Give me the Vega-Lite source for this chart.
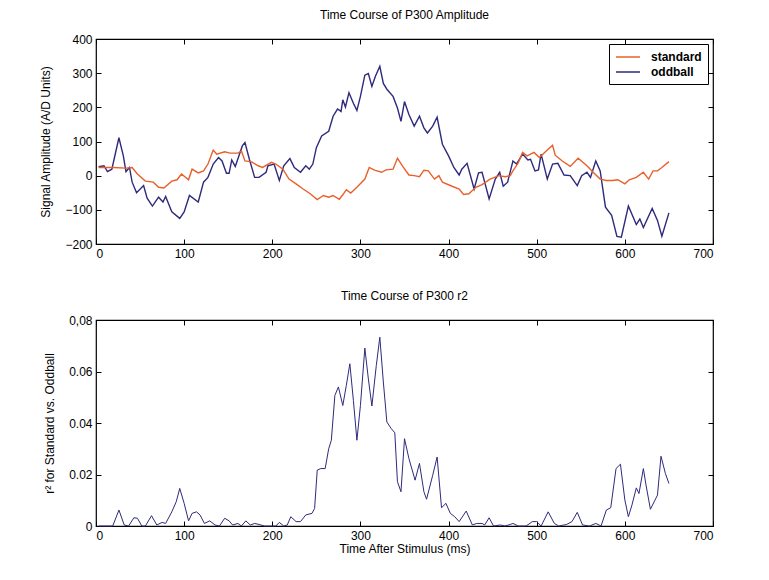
{
  "$schema": "https://vega.github.io/schema/vega-lite/v6.json",
  "padding": {"left": 39, "top": 8, "right": 5, "bottom": 5},
  "background": "white",
  "spacing": 29,
  "config": {
    "font": "Liberation Sans",
    "view": {"stroke": "black", "strokeWidth": 1.2},
    "title": {"fontSize": 12, "fontWeight": "normal", "color": "black", "offset": 11, "anchor": "middle"},
    "axis": {
      "grid": false, "domain": false, "tickColor": "black", "tickSize": -5,
      "labelPadding": 9, "labelFontSize": 12, "labelColor": "black",
      "titleFontSize": 12, "titleFontWeight": "normal", "titleColor": "black"
    }
  },
  "datasets": {
    "amp": [
      {"t":3,"v":26,"cond":"oddball"},{"t":9,"v":29,"cond":"oddball"},{"t":13,"v":12,"cond":"oddball"},{"t":18,"v":19,"cond":"oddball"},{"t":26,"v":111,"cond":"oddball"},{"t":31,"v":58,"cond":"oddball"},{"t":34,"v":12,"cond":"oddball"},{"t":38,"v":24,"cond":"oddball"},{"t":41,"v":-19,"cond":"oddball"},{"t":46,"v":-50,"cond":"oddball"},{"t":54,"v":-29,"cond":"oddball"},{"t":58,"v":-66,"cond":"oddball"},{"t":64,"v":-89,"cond":"oddball"},{"t":71,"v":-63,"cond":"oddball"},{"t":76,"v":-77,"cond":"oddball"},{"t":79,"v":-61,"cond":"oddball"},{"t":86,"v":-106,"cond":"oddball"},{"t":95,"v":-125,"cond":"oddball"},{"t":100,"v":-106,"cond":"oddball"},{"t":106,"v":-58,"cond":"oddball"},{"t":116,"v":-77,"cond":"oddball"},{"t":122,"v":-19,"cond":"oddball"},{"t":127,"v":-5,"cond":"oddball"},{"t":133,"v":34,"cond":"oddball"},{"t":139,"v":53,"cond":"oddball"},{"t":143,"v":43,"cond":"oddball"},{"t":148,"v":7,"cond":"oddball"},{"t":151,"v":7,"cond":"oddball"},{"t":154,"v":46,"cond":"oddball"},{"t":158,"v":27,"cond":"oddball"},{"t":166,"v":87,"cond":"oddball"},{"t":169,"v":97,"cond":"oddball"},{"t":174,"v":48,"cond":"oddball"},{"t":180,"v":-5,"cond":"oddball"},{"t":185,"v":-5,"cond":"oddball"},{"t":193,"v":10,"cond":"oddball"},{"t":195,"v":29,"cond":"oddball"},{"t":202,"v":34,"cond":"oddball"},{"t":208,"v":-14,"cond":"oddball"},{"t":213,"v":29,"cond":"oddball"},{"t":220,"v":50,"cond":"oddball"},{"t":225,"v":24,"cond":"oddball"},{"t":232,"v":10,"cond":"oddball"},{"t":238,"v":29,"cond":"oddball"},{"t":242,"v":19,"cond":"oddball"},{"t":246,"v":34,"cond":"oddball"},{"t":250,"v":82,"cond":"oddball"},{"t":256,"v":116,"cond":"oddball"},{"t":264,"v":130,"cond":"oddball"},{"t":269,"v":174,"cond":"oddball"},{"t":274,"v":195,"cond":"oddball"},{"t":278,"v":188,"cond":"oddball"},{"t":280,"v":222,"cond":"oddball"},{"t":283,"v":201,"cond":"oddball"},{"t":287,"v":243,"cond":"oddball"},{"t":292,"v":212,"cond":"oddball"},{"t":296,"v":191,"cond":"oddball"},{"t":300,"v":232,"cond":"oddball"},{"t":305,"v":294,"cond":"oddball"},{"t":309,"v":299,"cond":"oddball"},{"t":313,"v":261,"cond":"oddball"},{"t":317,"v":291,"cond":"oddball"},{"t":322,"v":320,"cond":"oddball"},{"t":326,"v":270,"cond":"oddball"},{"t":330,"v":253,"cond":"oddball"},{"t":337,"v":232,"cond":"oddball"},{"t":342,"v":198,"cond":"oddball"},{"t":346,"v":159,"cond":"oddball"},{"t":350,"v":217,"cond":"oddball"},{"t":355,"v":179,"cond":"oddball"},{"t":361,"v":145,"cond":"oddball"},{"t":367,"v":174,"cond":"oddball"},{"t":372,"v":140,"cond":"oddball"},{"t":376,"v":125,"cond":"oddball"},{"t":382,"v":145,"cond":"oddball"},{"t":387,"v":171,"cond":"oddball"},{"t":393,"v":92,"cond":"oddball"},{"t":400,"v":58,"cond":"oddball"},{"t":406,"v":24,"cond":"oddball"},{"t":412,"v":2,"cond":"oddball"},{"t":415,"v":19,"cond":"oddball"},{"t":421,"v":36,"cond":"oddball"},{"t":429,"v":-39,"cond":"oddball"},{"t":434,"v":8,"cond":"oddball"},{"t":438,"v":10,"cond":"oddball"},{"t":446,"v":-68,"cond":"oddball"},{"t":453,"v":-10,"cond":"oddball"},{"t":458,"v":10,"cond":"oddball"},{"t":462,"v":-31,"cond":"oddball"},{"t":467,"v":-19,"cond":"oddball"},{"t":473,"v":43,"cond":"oddball"},{"t":477,"v":34,"cond":"oddball"},{"t":484,"v":63,"cond":"oddball"},{"t":490,"v":46,"cond":"oddball"},{"t":493,"v":48,"cond":"oddball"},{"t":498,"v":14,"cond":"oddball"},{"t":502,"v":17,"cond":"oddball"},{"t":505,"v":63,"cond":"oddball"},{"t":512,"v":-10,"cond":"oddball"},{"t":518,"v":34,"cond":"oddball"},{"t":524,"v":36,"cond":"oddball"},{"t":531,"v":2,"cond":"oddball"},{"t":538,"v":0,"cond":"oddball"},{"t":546,"v":-29,"cond":"oddball"},{"t":551,"v":0,"cond":"oddball"},{"t":557,"v":10,"cond":"oddball"},{"t":561,"v":-5,"cond":"oddball"},{"t":567,"v":43,"cond":"oddball"},{"t":572,"v":14,"cond":"oddball"},{"t":578,"v":-92,"cond":"oddball"},{"t":585,"v":-116,"cond":"oddball"},{"t":591,"v":-178,"cond":"oddball"},{"t":596,"v":-180,"cond":"oddball"},{"t":604,"v":-89,"cond":"oddball"},{"t":613,"v":-143,"cond":"oddball"},{"t":617,"v":-127,"cond":"oddball"},{"t":621,"v":-152,"cond":"oddball"},{"t":631,"v":-96,"cond":"oddball"},{"t":637,"v":-131,"cond":"oddball"},{"t":642,"v":-177,"cond":"oddball"},{"t":650,"v":-109,"cond":"oddball"},
      {"t":3,"v":24,"cond":"standard"},{"t":19,"v":24,"cond":"standard"},{"t":34,"v":22,"cond":"standard"},{"t":41,"v":24,"cond":"standard"},{"t":47,"v":5,"cond":"standard"},{"t":56,"v":-16,"cond":"standard"},{"t":65,"v":-19,"cond":"standard"},{"t":71,"v":-34,"cond":"standard"},{"t":77,"v":-36,"cond":"standard"},{"t":86,"v":-16,"cond":"standard"},{"t":92,"v":-12,"cond":"standard"},{"t":97,"v":5,"cond":"standard"},{"t":105,"v":-12,"cond":"standard"},{"t":109,"v":19,"cond":"standard"},{"t":116,"v":8,"cond":"standard"},{"t":122,"v":14,"cond":"standard"},{"t":127,"v":34,"cond":"standard"},{"t":133,"v":75,"cond":"standard"},{"t":137,"v":63,"cond":"standard"},{"t":146,"v":70,"cond":"standard"},{"t":152,"v":66,"cond":"standard"},{"t":161,"v":66,"cond":"standard"},{"t":165,"v":72,"cond":"standard"},{"t":169,"v":43,"cond":"standard"},{"t":176,"v":41,"cond":"standard"},{"t":184,"v":29,"cond":"standard"},{"t":189,"v":24,"cond":"standard"},{"t":199,"v":39,"cond":"standard"},{"t":204,"v":34,"cond":"standard"},{"t":212,"v":19,"cond":"standard"},{"t":219,"v":-10,"cond":"standard"},{"t":227,"v":-24,"cond":"standard"},{"t":235,"v":-39,"cond":"standard"},{"t":243,"v":-53,"cond":"standard"},{"t":251,"v":-70,"cond":"standard"},{"t":258,"v":-58,"cond":"standard"},{"t":264,"v":-63,"cond":"standard"},{"t":269,"v":-58,"cond":"standard"},{"t":276,"v":-69,"cond":"standard"},{"t":280,"v":-56,"cond":"standard"},{"t":284,"v":-41,"cond":"standard"},{"t":289,"v":-51,"cond":"standard"},{"t":296,"v":-34,"cond":"standard"},{"t":305,"v":-10,"cond":"standard"},{"t":310,"v":24,"cond":"standard"},{"t":316,"v":16,"cond":"standard"},{"t":324,"v":10,"cond":"standard"},{"t":329,"v":17,"cond":"standard"},{"t":337,"v":19,"cond":"standard"},{"t":342,"v":51,"cond":"standard"},{"t":348,"v":27,"cond":"standard"},{"t":355,"v":2,"cond":"standard"},{"t":361,"v":0,"cond":"standard"},{"t":367,"v":-3,"cond":"standard"},{"t":372,"v":16,"cond":"standard"},{"t":377,"v":14,"cond":"standard"},{"t":384,"v":-10,"cond":"standard"},{"t":389,"v":0,"cond":"standard"},{"t":393,"v":-19,"cond":"standard"},{"t":404,"v":-31,"cond":"standard"},{"t":412,"v":-39,"cond":"standard"},{"t":417,"v":-55,"cond":"standard"},{"t":423,"v":-53,"cond":"standard"},{"t":431,"v":-34,"cond":"standard"},{"t":438,"v":-26,"cond":"standard"},{"t":447,"v":-10,"cond":"standard"},{"t":457,"v":0,"cond":"standard"},{"t":464,"v":-3,"cond":"standard"},{"t":470,"v":0,"cond":"standard"},{"t":473,"v":14,"cond":"standard"},{"t":479,"v":37,"cond":"standard"},{"t":484,"v":68,"cond":"standard"},{"t":489,"v":58,"cond":"standard"},{"t":497,"v":68,"cond":"standard"},{"t":503,"v":53,"cond":"standard"},{"t":512,"v":75,"cond":"standard"},{"t":518,"v":89,"cond":"standard"},{"t":521,"v":60,"cond":"standard"},{"t":529,"v":43,"cond":"standard"},{"t":538,"v":27,"cond":"standard"},{"t":547,"v":51,"cond":"standard"},{"t":557,"v":29,"cond":"standard"},{"t":564,"v":10,"cond":"standard"},{"t":572,"v":-10,"cond":"standard"},{"t":579,"v":-14,"cond":"standard"},{"t":586,"v":-14,"cond":"standard"},{"t":592,"v":-12,"cond":"standard"},{"t":600,"v":-24,"cond":"standard"},{"t":605,"v":-12,"cond":"standard"},{"t":613,"v":-5,"cond":"standard"},{"t":621,"v":10,"cond":"standard"},{"t":627,"v":-10,"cond":"standard"},{"t":632,"v":14,"cond":"standard"},{"t":637,"v":14,"cond":"standard"},{"t":642,"v":24,"cond":"standard"},{"t":650,"v":41,"cond":"standard"}
    ],
    "r2": [
      {"t":3,"r":0},{"t":19,"r":0},{"t":26,"r":0.0062},{"t":32,"r":0.0004},{"t":37,"r":0},{"t":43,"r":0.0032},{"t":47,"r":0.003},{"t":52,"r":0},{"t":56,"r":0},{"t":63,"r":0.004},{"t":69,"r":0.0004},{"t":75,"r":0.0014},{"t":79,"r":0.001},{"t":86,"r":0.0055},{"t":91,"r":0.0094},{"t":95,"r":0.0146},{"t":100,"r":0.0088},{"t":105,"r":0.002},{"t":109,"r":0.0049},{"t":114,"r":0.0055},{"t":118,"r":0.0043},{"t":123,"r":0.001},{"t":129,"r":0.002},{"t":135,"r":0.0004},{"t":140,"r":0},{"t":146,"r":0.003},{"t":151,"r":0.002},{"t":155,"r":0.0004},{"t":161,"r":0.001},{"t":165,"r":0},{"t":170,"r":0.002},{"t":175,"r":0.0004},{"t":180,"r":0.001},{"t":185,"r":0.0006},{"t":191,"r":0},{"t":198,"r":0},{"t":204,"r":0},{"t":208,"r":0.0014},{"t":213,"r":0},{"t":217,"r":0.0004},{"t":221,"r":0.0036},{"t":227,"r":0.0017},{"t":232,"r":0.0017},{"t":238,"r":0.0043},{"t":245,"r":0.0049},{"t":248,"r":0.0068},{"t":251,"r":0.0217},{"t":255,"r":0.0223},{"t":260,"r":0.0223},{"t":264,"r":0.03},{"t":267,"r":0.0333},{"t":271,"r":0.0507},{"t":275,"r":0.054},{"t":280,"r":0.0468},{"t":284,"r":0.0546},{"t":288,"r":0.063},{"t":292,"r":0.0488},{"t":296,"r":0.0333},{"t":300,"r":0.0468},{"t":305,"r":0.0691},{"t":309,"r":0.0571},{"t":313,"r":0.0466},{"t":318,"r":0.0623},{"t":322,"r":0.0733},{"t":326,"r":0.0559},{"t":330,"r":0.0404},{"t":335,"r":0.0378},{"t":339,"r":0.0362},{"t":342,"r":0.0172},{"t":346,"r":0.0133},{"t":350,"r":0.0339},{"t":355,"r":0.0262},{"t":362,"r":0.0178},{"t":367,"r":0.0243},{"t":372,"r":0.0133},{"t":375,"r":0.0104},{"t":382,"r":0.0197},{"t":387,"r":0.0268},{"t":392,"r":0.0071},{"t":397,"r":0.0088},{"t":402,"r":0.0049},{"t":407,"r":0.0036},{"t":412,"r":0.0017},{"t":420,"r":0.0058},{"t":427,"r":0.0004},{"t":432,"r":0.001},{"t":438,"r":0.001},{"t":441,"r":0.0004},{"t":446,"r":0.0032},{"t":451,"r":0},{"t":459,"r":0.0004},{"t":464,"r":0},{"t":470,"r":0.0006},{"t":473,"r":0.001},{"t":479,"r":0},{"t":488,"r":0},{"t":495,"r":0.0017},{"t":500,"r":0.0017},{"t":505,"r":0},{"t":513,"r":0.0055},{"t":520,"r":0.001},{"t":525,"r":0},{"t":534,"r":0.0006},{"t":540,"r":0.0017},{"t":546,"r":0.0053},{"t":552,"r":0.0004},{"t":560,"r":0},{"t":567,"r":0.001},{"t":573,"r":0},{"t":579,"r":0.0062},{"t":584,"r":0.0071},{"t":590,"r":0.0223},{"t":595,"r":0.024},{"t":600,"r":0.0101},{"t":604,"r":0.0036},{"t":608,"r":0.0081},{"t":613,"r":0.0148},{"t":616,"r":0.0126},{"t":621,"r":0.0223},{"t":624,"r":0.0159},{"t":629,"r":0.0065},{"t":637,"r":0.012},{"t":641,"r":0.0271},{"t":646,"r":0.0204},{"t":650,"r":0.0165}
    ]
  },
  "vconcat": [
    {
      "title": "Time Course of P300 Amplitude",
      "width": 617,
      "height": 205,
      "data": {"name": "amp"},
      "resolve": {"axis": {"x": "independent", "y": "independent"}},
      "layer": [
        {
          "mark": {"type": "line", "strokeWidth": 1.4, "interpolate": "linear"},
          "encoding": {
            "x": {"field": "t", "type": "quantitative", "scale": {"domain": [0, 700], "nice": false},
                  "axis": {"values": [0,100,200,300,400,500,600,700], "title": null, "orient": "bottom"}},
            "y": {"field": "v", "type": "quantitative", "scale": {"domain": [-200, 400], "nice": false},
                  "axis": {"values": [-200,-100,0,100,200,300,400], "title": "Signal Amplitude (A/D Units)", "orient": "left", "titlePadding": 12}},
            "color": {"field": "cond", "type": "nominal",
                      "scale": {"domain": ["standard", "oddball"], "range": ["#e8602a", "#2e2a7c"]},
                      "legend": {"title": null, "orient": "none", "legendX": 513, "legendY": 5, "strokeColor": "black", "fillColor": "white", "padding": 6, "symbolType": "M-1,0L3,0", "symbolSize": 144, "symbolStrokeWidth": 1.5, "labelFontSize": 12, "labelFontWeight": "bold", "labelColor": "black", "rowPadding": 2, "labelOffset": 22}}
          }
        },
        {
          "mark": {"type": "line", "strokeOpacity": 0},
          "encoding": {
            "x": {"field": "t", "type": "quantitative", "axis": {"values": [0,100,200,300,400,500,600,700], "orient": "top", "labels": false, "title": null}},
            "y": {"field": "v", "type": "quantitative", "axis": {"values": [-200,-100,0,100,200,300,400], "orient": "right", "labels": false, "title": null}}
          }
        }
      ]
    },
    {
      "title": "Time Course of P300 r2",
      "width": 617,
      "height": 206,
      "data": {"name": "r2"},
      "resolve": {"axis": {"x": "independent", "y": "independent"}},
      "layer": [
        {
          "mark": {"type": "line", "strokeWidth": 1, "color": "#2e2a7c"},
          "encoding": {
            "x": {"field": "t", "type": "quantitative", "scale": {"domain": [0, 700], "nice": false},
                  "axis": {"values": [0,100,200,300,400,500,600,700], "title": "Time After Stimulus (ms)", "orient": "bottom", "titlePadding": 2}},
            "y": {"field": "r", "type": "quantitative", "scale": {"domain": [0, 0.08], "nice": false},
                  "axis": {"values": [0, 0.02, 0.04, 0.06, 0.08], "labelExpr": "datum.value == 0 ? '0' : (datum.value > 0.07 ? '0,08' : format(datum.value, '.2f'))", "title": "r² for Standard vs. Oddball", "orient": "left", "titlePadding": 12}}
          }
        },
        {
          "mark": {"type": "line", "strokeOpacity": 0},
          "encoding": {
            "x": {"field": "t", "type": "quantitative", "axis": {"values": [0,100,200,300,400,500,600,700], "orient": "top", "labels": false, "title": null}},
            "y": {"field": "r", "type": "quantitative", "axis": {"values": [0, 0.02, 0.04, 0.06, 0.08], "orient": "right", "labels": false, "title": null}}
          }
        }
      ]
    }
  ]
}
